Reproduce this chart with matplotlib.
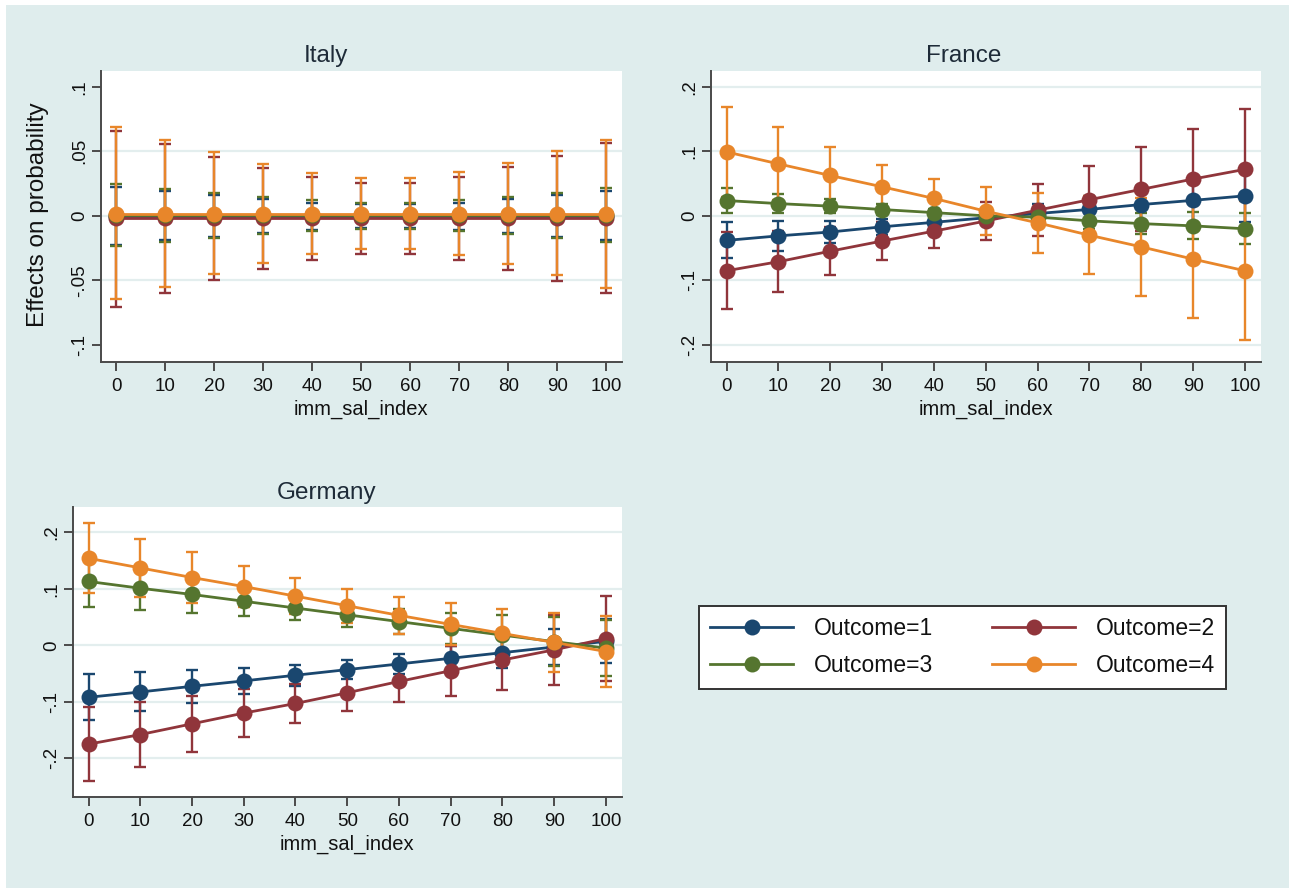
import matplotlib
matplotlib.use("Agg")
import matplotlib.pyplot as plt
from matplotlib.lines import Line2D
from matplotlib.patches import Rectangle
import numpy as np

# ---------------------------------------------------------------- data
x_vals = [0, 10, 20, 30, 40, 50, 60, 70, 80, 90, 100]
outcomes = ["Outcome=1", "Outcome=2", "Outcome=3", "Outcome=4"]

# Italy: margins with 95% CI bounds
italy_est = {
    1: [-0.0005] * 11,
    2: [-0.0015] * 11,
    3: [0.0005] * 11,
    4: [0.0015] * 11,
}
italy_lo = {
    1: [-0.0225, -0.019, -0.0160, -0.0130, -0.0108, -0.0093, -0.0093, -0.0108, -0.0130, -0.0160, -0.0190],
    2: [-0.0704, -0.0595, -0.0497, -0.0415, -0.0343, -0.0299, -0.0299, -0.0345, -0.0418, -0.0505, -0.0600],
    3: [-0.0235, -0.020, -0.0168, -0.0137, -0.0116, -0.0098, -0.0098, -0.0116, -0.0137, -0.0168, -0.0200],
    4: [-0.0647, -0.0549, -0.0454, -0.0369, -0.0299, -0.0258, -0.0258, -0.0302, -0.0371, -0.0461, -0.0557],
}
italy_hi = {
    1: [0.0224, 0.019, 0.0160, 0.0130, 0.0103, 0.0088, 0.0088, 0.0103, 0.0130, 0.0160, 0.0190],
    2: [0.0657, 0.0554, 0.0456, 0.0374, 0.0302, 0.0258, 0.0258, 0.0304, 0.0379, 0.0466, 0.0564],
    3: [0.0245, 0.021, 0.0178, 0.0147, 0.0120, 0.0103, 0.0103, 0.0120, 0.0147, 0.0178, 0.0215],
    4: [0.0688, 0.0585, 0.0492, 0.0405, 0.0332, 0.0294, 0.0294, 0.0338, 0.0410, 0.0500, 0.0590],
}

# France
france_est = {
    1: [-0.038, -0.031, -0.025, -0.017, -0.010, -0.003, 0.0036, 0.010, 0.0175, 0.024, 0.031],
    2: [-0.085, -0.071, -0.0547, -0.039, -0.0237, -0.008, 0.0088, 0.025, 0.041, 0.057, 0.072],
    3: [0.0237, 0.019, 0.015, 0.0098, 0.005, 0.0, -0.002, -0.0077, -0.012, -0.0155, -0.020],
    4: [0.099, 0.0805, 0.0625, 0.045, 0.027, 0.0072, -0.0108, -0.030, -0.048, -0.067, -0.085],
}
france_lo = {
    1: [-0.066, -0.054, -0.042, -0.029, -0.019, -0.013, -0.0114, -0.011, -0.0105, -0.011, -0.010],
    2: [-0.145, -0.118, -0.092, -0.068, -0.0495, -0.038, -0.031, -0.027, -0.024, -0.021, -0.021],
    3: [0.005, 0.004, 0.004, 0.0018, -0.001, -0.006, -0.010, -0.0197, -0.028, -0.0365, -0.044],
    4: [0.029, 0.024, 0.019, 0.012, -0.003, -0.030, -0.057, -0.090, -0.124, -0.158, -0.1925],
}
france_hi = {
    1: [-0.010, -0.008, -0.008, -0.005, -0.001, 0.007, 0.0186, 0.031, 0.0455, 0.059, 0.072],
    2: [-0.025, -0.024, -0.0174, -0.010, 0.002, 0.022, 0.049, 0.077, 0.106, 0.135, 0.165],
    3: [0.0424, 0.034, 0.026, 0.0178, 0.011, 0.006, 0.006, 0.0043, 0.004, 0.0055, 0.004],
    4: [0.169, 0.137, 0.106, 0.078, 0.057, 0.044, 0.0356, 0.030, 0.028, 0.024, 0.0225],
}

# Germany
germany_est = {
    1: [-0.092, -0.0826, -0.0726, -0.063, -0.053, -0.043, -0.033, -0.023, -0.013, -0.003, 0.007],
    2: [-0.175, -0.158, -0.139, -0.120, -0.103, -0.084, -0.064, -0.045, -0.026, -0.008, 0.012],
    3: [0.113, 0.101, 0.090, 0.078, 0.066, 0.054, 0.042, 0.030, 0.018, 0.0065, -0.005],
    4: [0.154, 0.137, 0.120, 0.104, 0.087, 0.070, 0.053, 0.037, 0.021, 0.005, -0.011],
}
germany_lo = {
    1: [-0.133, -0.117, -0.1016, -0.086, -0.072, -0.060, -0.051, -0.044, -0.041, -0.035, -0.032],
    2: [-0.241, -0.215, -0.188, -0.163, -0.138, -0.117, -0.101, -0.089, -0.079, -0.070, -0.064],
    3: [0.067, 0.063, 0.058, 0.052, 0.045, 0.033, 0.020, 0.002, -0.018, -0.0365, -0.055],
    4: [0.092, 0.085, 0.075, 0.068, 0.055, 0.040, 0.020, 0.000, -0.023, -0.048, -0.074],
}
germany_hi = {
    1: [-0.051, -0.048, -0.0436, -0.040, -0.034, -0.026, -0.015, -0.002, 0.015, 0.029, 0.046],
    2: [-0.109, -0.101, -0.090, -0.077, -0.068, -0.051, -0.027, -0.001, 0.027, 0.054, 0.088],
    3: [0.159, 0.139, 0.122, 0.104, 0.087, 0.075, 0.064, 0.058, 0.054, 0.0495, 0.045],
    4: [0.216, 0.189, 0.165, 0.140, 0.119, 0.100, 0.086, 0.074, 0.065, 0.058, 0.052],
}

italy_yticks = [-0.1, -0.05, 0, 0.05, 0.1]
italy_ylabels = ["-.1", "-.05", "0", ".05", ".1"]
wide_yticks = [-0.2, -0.1, 0, 0.1, 0.2]
wide_ylabels = ["-.2", "-.1", "0", ".1", ".2"]

# ---------------------------------------------------------------- style
W, H = 1289, 889
BG = "#dfeded"
GRID = "#e3eeee"
AXIS = "#4a4a4a"
TXT = "#111111"
TITLE = "#1e2b38"
colors = {1: "#1a476f", 2: "#90353b", 3: "#55752f", 4: "#e8862a"}
FONT = "Liberation Sans"
plt.rcParams["font.family"] = [FONT, "DejaVu Sans"]

MS = 11.5      # marker size
LW = 2.0       # connecting line width
CI_LW = 1.7    # CI line width


def fx(px):
    return px / W


def fy(py):
    return 1 - py / H


fig = plt.figure(figsize=(W / 100, H / 100), dpi=100, facecolor="white")
fig.patches.append(Rectangle((fx(6), fy(888)), fx(W) - fx(6), fy(5) - fy(888),
                             transform=fig.transFigure, facecolor=BG,
                             edgecolor="none", zorder=-10))


def make_axes(left, right, top, bottom):
    return fig.add_axes([fx(left), fy(bottom), fx(right) - fx(left), fy(top) - fy(bottom)])


def draw_panel(ax, est, lo, hi, ylim, yticks, ylabels, gridvals, xlim):
    ax.set_facecolor("white")
    for v in gridvals:
        ax.axhline(v, color=GRID, lw=1.6, zorder=0)
    for k in (1, 2, 3, 4):
        e = np.array(est[k])
        l = np.array(lo[k])
        h = np.array(hi[k])
        ax.errorbar(x_vals, e, yerr=[e - l, h - e], fmt="none",
                    ecolor=colors[k], elinewidth=CI_LW, capsize=4.5,
                    capthick=CI_LW, zorder=2)
    for k in (1, 2, 3, 4):
        ax.plot(x_vals, est[k], color=colors[k], lw=LW, marker="o",
                markersize=MS, markeredgewidth=0, zorder=3)
    ax.set_xlim(*xlim)
    ax.set_ylim(*ylim)
    ax.set_xticks(x_vals)
    ax.set_xticklabels([str(v) for v in x_vals])
    ax.set_yticks(yticks)
    ax.set_yticklabels(ylabels, rotation=90, va="center")
    for s in ("top", "right"):
        ax.spines[s].set_visible(False)
    for s in ("left", "bottom"):
        ax.spines[s].set_color(AXIS)
        ax.spines[s].set_linewidth(1.4)
    ax.tick_params(axis="both", direction="out", length=6.5, width=1.4,
                   color=AXIS, labelcolor=TXT, labelsize=13.5)
    ax.tick_params(axis="x", pad=5)
    ax.tick_params(axis="y", pad=3)


# Italy
ax_it = make_axes(101, 622, 71, 362)
draw_panel(ax_it, italy_est, italy_lo, italy_hi, (-0.1132, 0.1122),
           italy_yticks, italy_ylabels, [-0.05, 0, 0.05], (-3.1, 103.2))

# France
ax_fr = make_axes(711, 1261, 71, 362)
draw_panel(ax_fr, france_est, france_lo, france_hi, (-0.2263, 0.2243),
           wide_yticks, wide_ylabels, wide_yticks, (-3.0, 103.1))

# Germany
ax_de = make_axes(73, 622, 507, 797)
draw_panel(ax_de, germany_est, germany_lo, germany_hi, (-0.2685, 0.2448),
           wide_yticks, wide_ylabels, wide_yticks, (-3.0, 103.1))

# titles and axis titles
fig.text(fx(326), fy(62), "Italy", ha="center", va="baseline", fontsize=17.5, color=TITLE)
fig.text(fx(964), fy(62), "France", ha="center", va="baseline", fontsize=17.5, color=TITLE)
fig.text(fx(327), fy(499), "Germany", ha="center", va="baseline", fontsize=17.5, color=TITLE)

fig.text(fx(361), fy(415), "imm_sal_index", ha="center", va="baseline", fontsize=14.5, color=TXT)
fig.text(fx(986), fy(415), "imm_sal_index", ha="center", va="baseline", fontsize=14.5, color=TXT)
fig.text(fx(347), fy(850), "imm_sal_index", ha="center", va="baseline", fontsize=14.5, color=TXT)

fig.text(fx(38), fy(215), "Effects on probability", ha="center", va="center",
         rotation=90, fontsize=17.5, color=TXT)

# legend: entries laid out row by row (1 2 / 3 4)
handles = {k: Line2D([], [], color=colors[k], lw=LW, marker="o", markersize=MS,
                     markeredgewidth=0) for k in (1, 2, 3, 4)}
order = [1, 3, 2, 4]
leg = fig.legend([handles[k] for k in order], [outcomes[k - 1] for k in order],
                 ncol=2, loc="upper left",
                 bbox_to_anchor=(fx(699), fy(606)), fontsize=16.5,
                 frameon=True, fancybox=False, framealpha=1,
                 borderpad=0.5, labelspacing=0.6, handlelength=3.6,
                 handletextpad=0.9, columnspacing=2.6, borderaxespad=0)
leg.get_frame().set_edgecolor("#333333")
leg.get_frame().set_linewidth(1.4)
leg.get_frame().set_facecolor("white")
for t in leg.get_texts():
    t.set_color(TXT)

fig.savefig("out.png", dpi=100, facecolor=fig.get_facecolor())
